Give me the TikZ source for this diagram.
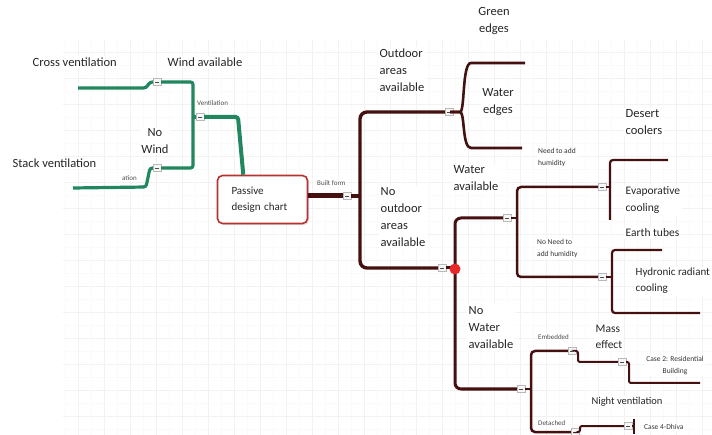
\documentclass[tikz,border=0pt]{standalone}
\usepackage{fontspec}
\setmainfont{Carlito}
\usetikzlibrary{calc,shadows}
\definecolor{grn}{RGB}{32,135,95}
\definecolor{mar}{RGB}{68,16,16}
\definecolor{rbox}{RGB}{185,50,50}
\definecolor{rdot}{RGB}{232,40,40}
\begin{document}
\begin{tikzpicture}[x=1pt,y=-1pt,
  lbl/.style={fill=white,inner sep=1.5pt,align=left,font=\fontsize{11.5}{16.5}\selectfont,text=black!85},
  biglbl/.style={lbl,font=\fontsize{12.5}{17}\selectfont},
  tinylbl/.style={fill=white,inner sep=1pt,align=left,font=\fontsize{7}{10}\selectfont,text=black!70},
  smalllbl/.style={fill=white,inner sep=1pt,align=left,font=\fontsize{7.5}{12}\selectfont,text=black!80},
  cbox/.style={draw=gray!55,fill=gray!6,minimum width=8pt,minimum height=7pt,inner sep=0pt,
    path picture={\draw[gray!60!black,line width=0.7pt] ([xshift=2pt]path picture bounding box.west) -- ([xshift=-2pt]path picture bounding box.east);}},
  gline/.style={draw=grn,line width=3.2pt,rounded corners=2.5pt},
  mline/.style={draw=mar,line width=3pt,rounded corners=5pt},
  rootbox/.style={draw=rbox,line width=1.6pt,rounded corners=5pt,fill=white,minimum width=90pt,minimum height=48pt,text width=62pt,align=left,font=\fontsize{11}{16}\selectfont,text=black!85,drop shadow={opacity=0.25,shadow xshift=1.5pt,shadow yshift=-1.5pt}}]
\useasboundingbox (0,0) rectangle (712,435);
\fill[white] (0,0) rectangle (712,435);
% grid
\draw[gray!4,line width=0.5pt,step=13pt] (63,40) grid (712,435);
\draw[gray!10,line width=0.6pt,step=26pt] (63,40) grid (712,435);

% text labels
\node[biglbl,anchor=west] (tcv) at (31,62) {Cross ventilation};
\node[biglbl,anchor=west] (twa) at (166,62) {Wind available};
\node[biglbl,anchor=west] (tsv) at (11,163) {Stack ventilation};
\node[biglbl,align=center] (tnw) at (155,141) {No\\Wind};
\node[tinylbl,anchor=west] (tvt) at (196,103) {Ventilation};
\node[tinylbl,anchor=west] (tat) at (121,178) {ation};
\node[tinylbl,anchor=west] (tbf) at (316,183) {Built form};
\node[biglbl,anchor=west] (toa) at (378,70) {Outdoor\\areas\\available};
\node[biglbl,align=center] (tge) at (494,21) {Green\\edges};
\node[biglbl,align=center] (twe) at (498,102) {Water\\edges};
\node[biglbl,anchor=west] (tno) at (379,217) {No\\outdoor\\areas\\available};
\node[biglbl,anchor=west] (twv) at (452,178) {Water\\available};
\node[smalllbl,anchor=west] (tnh) at (537,158) {Need to add\\humidity};
\node[smalllbl,anchor=west] (tnn) at (536,249) {No Need to\\add humidity};
\node[biglbl,anchor=west] (tdc) at (624,122) {Desert\\coolers};
\node[lbl,anchor=west] (tev) at (624,200) {Evaporative\\cooling};
\node[lbl,anchor=west] (tet) at (624,233) {Earth tubes};
\node[lbl,anchor=west,font=\fontsize{11}{16}\selectfont] (thr) at (634,281) {Hydronic radiant\\cooling};
\node[biglbl,anchor=west] (tnwa) at (467,328) {No\\Water\\available};
\node[tinylbl,anchor=west] (tem) at (537,337) {Embedded};
\node[lbl,anchor=west] (tme) at (594,337) {Mass\\effect};
\node[smalllbl,align=center] (tc2) at (675,366) {Case 2: Residential\\Building};
\node[lbl,font=\fontsize{10.5}{14}\selectfont] (tnv) at (627,402) {Night ventilation};
\node[tinylbl,anchor=west] (tde) at (537,423) {Detached};
\node[smalllbl,anchor=west] (tc4) at (643,427) {Case 4-Dhiva};

% root
\node[rootbox] (pdc) at (262.5,199.5) {Passive\\design chart};

% collapse boxes
\node[cbox] (b1) at (157,82) {};
\node[cbox] (b2) at (157,168) {};
\node[cbox] (b3) at (200,117) {};
\node[cbox] (b4) at (347,196) {};
\node[cbox] (b5) at (449,112) {};
\node[cbox] (b6) at (442,268) {};
\node[cbox] (b7) at (507,218) {};
\node[cbox] (b8) at (521,389) {};
\node[cbox] (b9) at (602,187) {};
\node[cbox] (b10) at (602,277) {};
\node[cbox] (b11) at (572,351) {};
\node[cbox] (b12) at (575,432) {};
\node[cbox] (b13) at (622,362) {};
\node[cbox] (b14) at (628,426) {};

% free ends
\coordinate (cv) at (78,88);
\coordinate (sv) at (73,188);
\coordinate (ge) at (525,63);
\coordinate (we) at (522,148);
\coordinate (dc) at (668,160);
\coordinate (ev) at (610,220);
\coordinate (et) at (662,250);
\coordinate (hr) at (700,313);
\coordinate (c2) at (700,383);
\coordinate (c4) at (634,426);
\coordinate (c4t) at (634,419);
\coordinate (c4b) at (634,434);

% green connectors
\draw[gline] (cv) -- (146,88) -- (150,82) -- (b1.west);
\draw[gline] (b1.east) -| (193,117) |- (b2.east);
\draw[gline] (b3.west) -- (193,117);
\draw[gline] (b2.west) -- (150,168) -- (146,187) -- (sv);
\draw[gline,line width=4pt] (b3.east) -- (238,117) -- ($(pdc.north west)!0.29!(pdc.north east)$);

% maroon connectors
\draw[mline,line width=5pt] (b4.west -| pdc.east) -- (b4.west);
\draw[mline,line width=3.4pt,rounded corners=7pt] (b5.west) -| (360,196) |- (b6.west);
\draw[mline,line width=3.4pt] (b4.east) -- (360,196);
\draw[mline,line width=2.6pt] (b5.east) -- (455,112) .. controls (465,112) and (462,63) .. (476,63) -- (ge);
\draw[mline,line width=2.6pt] (b5.east) -- (455,112) .. controls (465,112) and (462,148) .. (476,148) -- (we);
\draw[mline,line width=3pt,rounded corners=6pt] (b7.west) -| (455,300) |- (b8.west);
\draw[mline,line width=3pt] (b6.east) -- (455,268);
\node[circle,fill=rdot,minimum size=11pt,inner sep=0pt] (rd) at (455,269) {};
\draw[mline,line width=2.5pt] (b7.east) -- (517,218);
\draw[mline,line width=2.5pt,rounded corners=4pt] (b9.west) -| (517,230) |- (b10.west);
\draw[mline,line width=2.2pt] (b9.east) -- (610,187);
\draw[mline,line width=2.2pt,rounded corners=3pt] (dc) -| (ev);
\draw[mline,line width=2.2pt] (b10.east) -- (612,277);
\draw[mline,line width=2.2pt,rounded corners=3pt] (et) -| (612,280) |- (hr);
\draw[mline,line width=2.5pt] (b8.east) -- (531,389);
\draw[mline,line width=2.5pt,rounded corners=4pt] (b11.west) -| (531,389) |- (b12.west);
\draw[mline,line width=2pt,rounded corners=2pt] (b11.east) -- (578,351) -- (578,362) -- (b13.west);
\draw[mline,line width=2pt,rounded corners=2pt] (b13.east) -- (629,362) -- (629,383) -- (c2);
\draw[mline,line width=2pt,rounded corners=2pt] (b12.east) -- (580,432) -- (580,426) -- (b14.west);
\draw[mline,line width=1.5pt] (b14.east) -- (c4);
\draw[mline,line width=1.5pt] (c4t) -- (c4b);
\end{tikzpicture}
\end{document}
